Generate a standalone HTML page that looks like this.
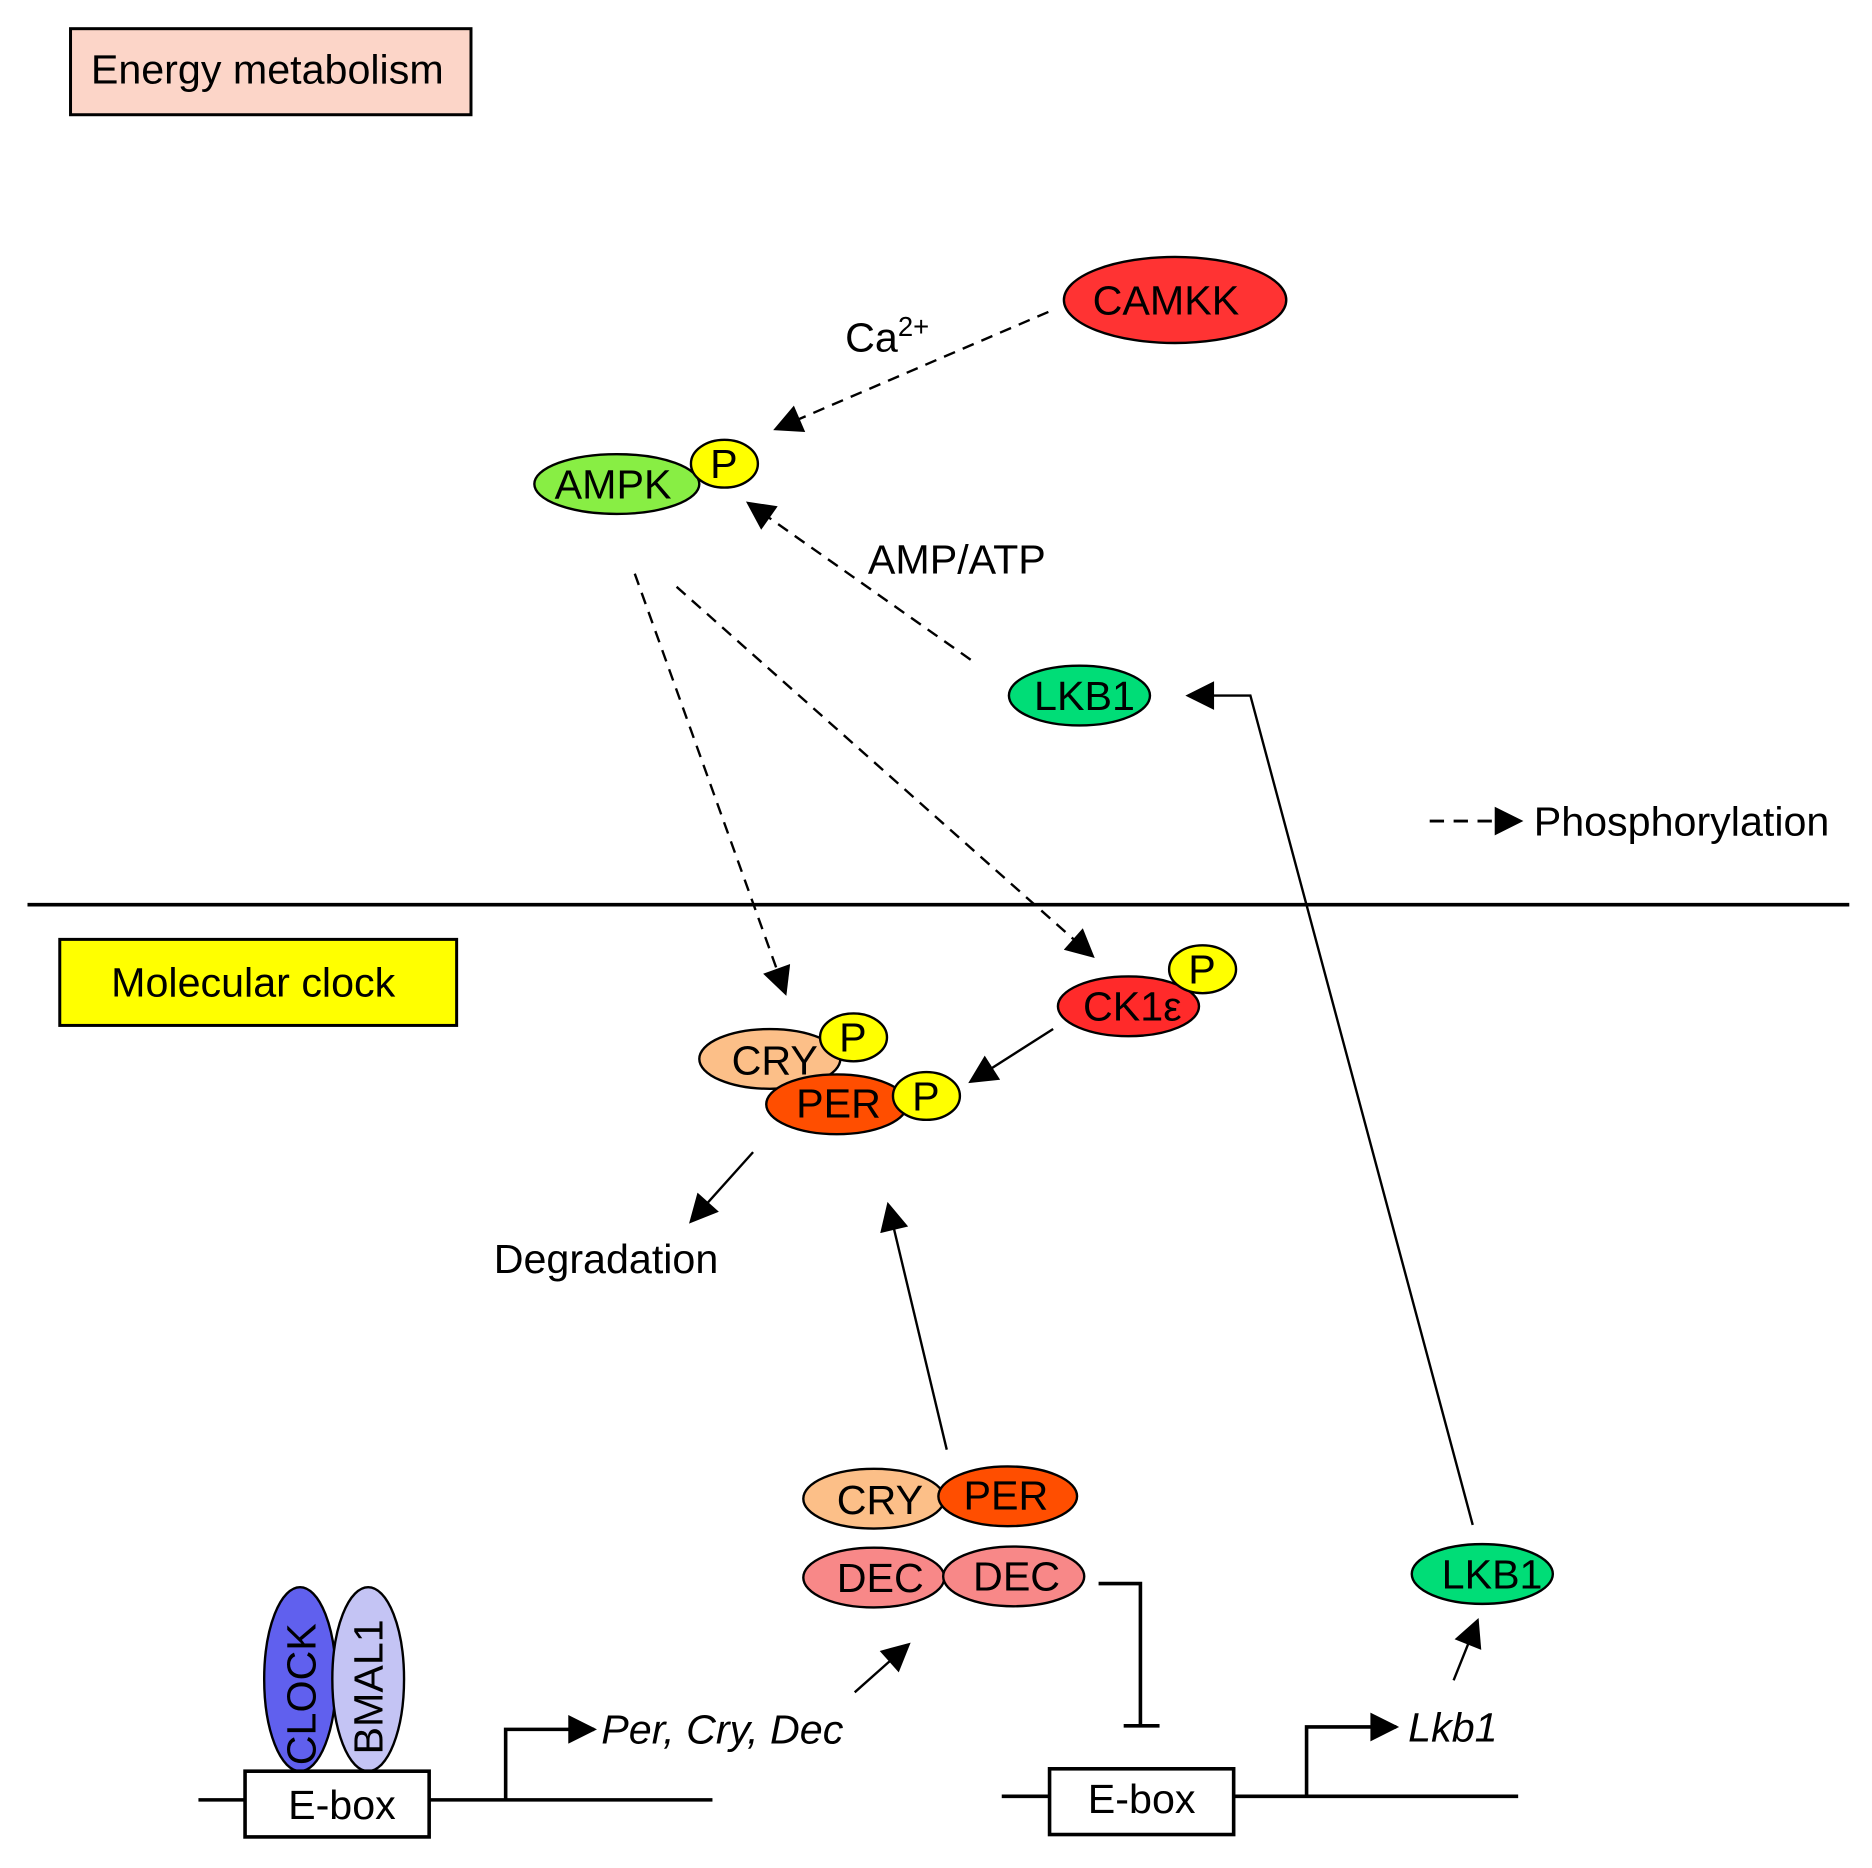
<!DOCTYPE html>
<html><head><meta charset="utf-8"><style>
html,body{margin:0;padding:0;background:#fff}
svg{display:block}
text{font-family:"Liberation Sans",sans-serif;font-size:34.5px;fill:#000}
</style></head><body>
<svg width="1872" height="1868" viewBox="0 0 1566 1563" preserveAspectRatio="none" xmlns="http://www.w3.org/2000/svg">
<defs>
<marker id="b" viewBox="0 0 10 10" refX="9" refY="5" markerWidth="30" markerHeight="24" markerUnits="userSpaceOnUse" orient="auto"><path d="M0,0L10,5L0,10z" fill="#000"/></marker>
</defs>
<g stroke="#000" stroke-width="2.5" fill="none">
<rect x="59" y="24" width="335" height="72" fill="#fcd5c8"/>
<rect x="50" y="786" width="332" height="72" fill="#ffff00"/>
<line x1="23" y1="757" x2="1547" y2="757" stroke-width="3"/>
</g>
<text x="76" y="70">Energy metabolism</text>
<text x="93" y="834">Molecular clock</text>

<g stroke="#000" stroke-width="2">
<ellipse cx="983" cy="251" rx="93" ry="36" fill="#ff3333"/>
<ellipse cx="516" cy="405" rx="69" ry="25" fill="#88ee44"/>
<ellipse cx="606" cy="388" rx="28" ry="20" fill="#ffff00"/>
<ellipse cx="903" cy="582" rx="59" ry="25" fill="#00dd77"/>
<ellipse cx="944" cy="842" rx="59" ry="25" fill="#ff2a2a"/>
<ellipse cx="1006" cy="811" rx="28" ry="20" fill="#ffff00"/>
<ellipse cx="644" cy="886" rx="59" ry="25" fill="#fcbf88"/>
<ellipse cx="700" cy="924" rx="59" ry="25" fill="#ff4e00"/>
<ellipse cx="714" cy="868" rx="28" ry="20" fill="#ffff00"/>
<ellipse cx="775" cy="917" rx="28" ry="20" fill="#ffff00"/>
<ellipse cx="731" cy="1254" rx="59" ry="25" fill="#fcbf88"/>
<ellipse cx="843" cy="1252" rx="58" ry="25" fill="#ff4e00"/>
<ellipse cx="731" cy="1320" rx="59" ry="25" fill="#f88888"/>
<ellipse cx="848" cy="1319" rx="59" ry="25" fill="#f88888"/>
<ellipse cx="1240" cy="1317" rx="59" ry="25" fill="#00dd77"/>
<ellipse cx="251" cy="1405" rx="30" ry="77" fill="#6060ee"/>
<ellipse cx="308" cy="1405" rx="30" ry="77" fill="#c4c4f4"/>
</g>
<text x="914" y="263">CAMKK</text>
<text x="464" y="417">AMPK</text>
<text x="594" y="400">P</text>
<text x="865" y="594">LKB1</text>
<text x="906" y="854">CK1ε</text>
<text x="994" y="823">P</text>
<text x="612" y="899">CRY</text>
<text x="666" y="935">PER</text>
<text x="702" y="880">P</text>
<text x="763" y="929">P</text>
<text x="700" y="1267">CRY</text>
<text x="806" y="1263">PER</text>
<text x="700" y="1332">DEC</text>
<text x="814" y="1331">DEC</text>
<text x="1206" y="1329">LKB1</text>
<text transform="translate(264,1477) rotate(-90)">CLOCK</text>
<text transform="translate(320,1468) rotate(-90)" font-size="32">BMAL1</text>

<text x="707" y="294">Ca<tspan font-size="23" dy="-13">2+</tspan></text>
<text x="726" y="480">AMP/ATP</text>
<text x="1283" y="699">Phosphorylation</text>
<text x="413" y="1065">Degradation</text>
<text x="503" y="1459" font-style="italic">Per, Cry, Dec</text>
<text x="1178" y="1457" font-style="italic">Lkb1</text>

<g stroke="#000" stroke-width="2" fill="none">
<line x1="877" y1="261" x2="649" y2="359" stroke-dasharray="10,7" marker-end="url(#b)"/>
<line x1="812" y1="552" x2="626" y2="421" stroke-dasharray="10,7" marker-end="url(#b)"/>
<line x1="531" y1="480" x2="657" y2="831" stroke-dasharray="10,7" marker-end="url(#b)"/>
<line x1="566" y1="491" x2="914" y2="800" stroke-dasharray="10,7" marker-end="url(#b)"/>
<line x1="1196" y1="687" x2="1272" y2="687" stroke-dasharray="12,8" stroke-width="2.5" marker-end="url(#b)"/>
<polyline points="1232,1276 1046,582 994,582" marker-end="url(#b)"/>
<line x1="881" y1="861" x2="812" y2="905" marker-end="url(#b)"/>
<line x1="630" y1="964" x2="578" y2="1022" marker-end="url(#b)"/>
<line x1="792" y1="1213" x2="743" y2="1008" marker-end="url(#b)"/>
<line x1="715" y1="1416" x2="760" y2="1376" marker-end="url(#b)"/>
<line x1="1216" y1="1406" x2="1236" y2="1356" marker-end="url(#b)"/>
<polyline points="919,1325 954,1325 954,1444" stroke-width="3"/>
<line x1="940" y1="1444" x2="970" y2="1444" stroke-width="3"/>
<line x1="166" y1="1506" x2="596" y2="1506" stroke-width="3"/>
<line x1="838" y1="1503" x2="1270" y2="1503" stroke-width="3"/>
<polyline points="423,1506 423,1447 497,1447" stroke-width="3" marker-end="url(#b)"/>
<polyline points="1093,1503 1093,1445 1168,1445" stroke-width="3" marker-end="url(#b)"/>
<rect x="205" y="1482" width="154" height="55" fill="#fff" stroke-width="3"/>
<rect x="878" y="1480" width="154" height="55" fill="#fff" stroke-width="3"/>
</g>
<text x="241" y="1522">E-box</text>
<text x="910" y="1517">E-box</text>
</svg>
</body></html>
